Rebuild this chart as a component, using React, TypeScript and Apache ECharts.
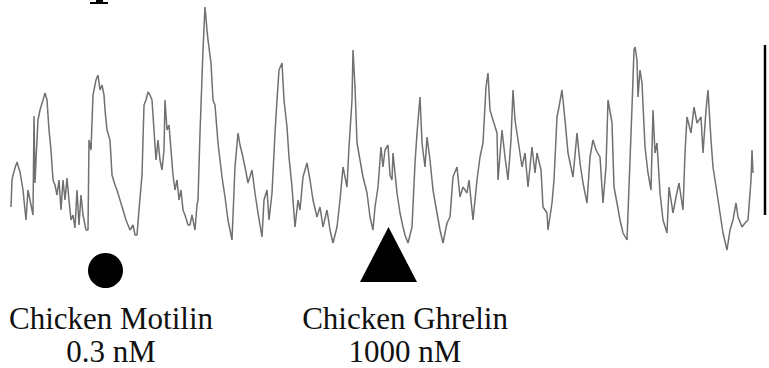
import React, { useEffect, useRef } from "react";
import * as echarts from "echarts";

// time (px-like units) and contraction amplitude (arbitrary units, = 260 - pixel y)
const traceTime: number[] = [
  11, 12, 13, 15, 17, 20, 23, 26, 28, 31, 33, 34, 35, 36, 38, 40, 43, 45, 47, 49, 51, 53, 55, 57, 59, 61, 63, 65, 67, 69,
  71, 73, 75, 77, 79, 81, 83, 86, 88, 89, 91, 93, 96, 98, 100, 102, 104, 105, 107, 110, 112, 115, 117, 120, 123, 126, 128, 130, 133, 135,
  137, 139, 142, 144, 146, 148, 150, 152, 154, 156, 158, 160, 162, 164, 165, 167, 169, 171, 173, 175, 177, 179, 181, 183, 185, 188, 190, 192, 195, 197,
  198, 200, 203, 205, 207, 208, 211, 213, 215, 218, 222, 225, 228, 232, 235, 238, 240, 242, 245, 248, 252, 255, 258, 262, 264, 267, 269, 272, 275, 277,
  279, 282, 284, 287, 289, 292, 295, 298, 300, 303, 307, 310, 313, 317, 320, 323, 327, 330, 333, 337, 340, 343, 347, 349, 352, 353, 355, 357, 360, 363,
  367, 370, 373, 375, 378, 381, 383, 385, 388, 390, 392, 393, 397, 400, 403, 405, 408, 412, 415, 417, 420, 422, 425, 427, 430, 433, 437, 440, 443, 447,
  450, 453, 457, 460, 463, 467, 469, 473, 477, 480, 483, 486, 488, 490, 493, 497, 498, 502, 505, 508, 511, 513, 515, 518, 522, 525, 528, 532, 535, 537,
  541, 543, 547, 548, 552, 554, 557, 559, 562, 565, 568, 573, 577, 580, 583, 587, 590, 593, 596, 600, 603, 606, 608, 612, 614, 617, 620, 623, 627, 629,
  632, 634, 635, 637, 638, 640, 642, 645, 648, 651, 653, 655, 657, 660, 663, 667, 669, 673, 676, 679, 683, 685, 687, 691, 694, 697, 701, 703, 706, 708,
  711, 713, 717, 720, 723, 727, 730, 733, 736, 738, 742, 745, 748, 751, 752, 753,
];
const tracePixelY: number[] = [
  207, 180, 175, 168, 162, 172, 190, 220, 190, 205, 215, 116, 183, 160, 120, 110, 100, 93, 100, 130, 150, 180, 185, 195, 180, 210, 180, 200, 178, 200,
  220, 215, 228, 190, 225, 195, 215, 230, 230, 140, 150, 95, 80, 75, 90, 85, 95, 110, 130, 140, 175, 185, 190, 200, 210, 220, 225, 230, 225, 235,
  235, 210, 175, 105, 100, 92, 95, 100, 130, 160, 140, 160, 170, 150, 100, 130, 125, 150, 175, 190, 180, 200, 190, 210, 215, 225, 225, 215, 230, 205,
  200, 133, 50, 7, 30, 40, 63, 100, 105, 143, 177, 197, 220, 240, 167, 133, 145, 153, 167, 183, 170, 193, 213, 237, 200, 190, 220, 193, 133, 100,
  70, 63, 100, 127, 157, 187, 227, 200, 210, 177, 163, 180, 200, 217, 207, 227, 210, 230, 243, 227, 200, 167, 187, 147, 100, 50, 87, 143, 160, 177,
  193, 217, 230, 207, 187, 147, 167, 150, 145, 175, 180, 153, 193, 213, 227, 235, 243, 227, 163, 133, 97, 143, 167, 137, 160, 190, 213, 230, 243, 223,
  217, 177, 167, 197, 187, 193, 180, 220, 180, 157, 143, 87, 73, 110, 120, 133, 180, 130, 157, 180, 140, 90, 120, 140, 167, 153, 187, 147, 173, 153,
  170, 207, 213, 230, 203, 180, 117, 107, 90, 120, 153, 177, 133, 163, 183, 203, 157, 140, 150, 157, 203, 167, 100, 123, 187, 203, 220, 233, 240, 187,
  107, 50, 47, 60, 97, 70, 83, 147, 173, 190, 110, 153, 143, 193, 220, 233, 187, 213, 197, 183, 210, 153, 117, 133, 107, 123, 117, 153, 110, 90,
  140, 167, 193, 213, 233, 250, 230, 220, 203, 217, 227, 223, 220, 180, 150, 173,
];
const traceAmplitude: number[] = tracePixelY.map((y) => 260 - y);

// drug application events
const eventTimes: number[] = [105.5, 388.5];
const eventLevels: number[] = [-10.5, 5.5];
const eventSymbols: string[] = ["circle", "triangle"];
const eventLabels: string[] = ["Chicken Motilin\n0.3 nM", "Chicken Ghrelin\n1000 nM"];

export default function App() {
  const ref = useRef<HTMLDivElement>(null);
  useEffect(() => {
    document.body.style.margin = "0";
    if (!ref.current) return;
    const chart = echarts.init(ref.current, undefined, { renderer: "svg" });
    const lineData = traceTime.map((t, i) => [t, traceAmplitude[i]]);
    const eventData = eventTimes.map((t, i) => ({
      value: [t, eventLevels[i]],
      symbol: eventSymbols[i],
      symbolSize: i === 0 ? 35 : [57, 55],
    }));
    chart.setOption({
      animation: false,
      backgroundColor: "#ffffff",
      grid: { left: 0, right: 0, top: 0, bottom: 0 },
      xAxis: { type: "value", min: 0, max: 769, show: false },
      yAxis: { type: "value", min: -108, max: 260, show: false },
      series: [
        {
          type: "line",
          data: lineData,
          showSymbol: false,
          symbol: "none",
          lineStyle: { color: "#707070", width: 1.5 },
          silent: true,
        },
        {
          type: "scatter",
          data: eventData,
          itemStyle: { color: "#000000", opacity: 1 },
          silent: true,
        },
      ],
      graphic: [
        { type: "line", shape: { x1: 765, y1: 45, x2: 765, y2: 215 }, style: { stroke: "#000", lineWidth: 2.5 } },
        { type: "rect", shape: { x: 96, y: 0, width: 7, height: 2 }, style: { fill: "#000" } },
        { type: "rect", shape: { x: 90, y: 2, width: 18, height: 2 }, style: { fill: "#000" } },
        ...eventLabels.map((label, i) => ({
          type: "text",
          x: i === 0 ? 111 : 405,
          y: 302,
          style: {
            text: label,
            font: "31px 'Liberation Serif', 'Times New Roman', serif",
            fill: "#111",
            textAlign: "center",
            textVerticalAlign: "top",
            lineHeight: 33,
          },
        })),
      ],
    });
    return () => chart.dispose();
  }, []);
  return <div ref={ref} style={{ width: 769, height: 368 }} />;
}
